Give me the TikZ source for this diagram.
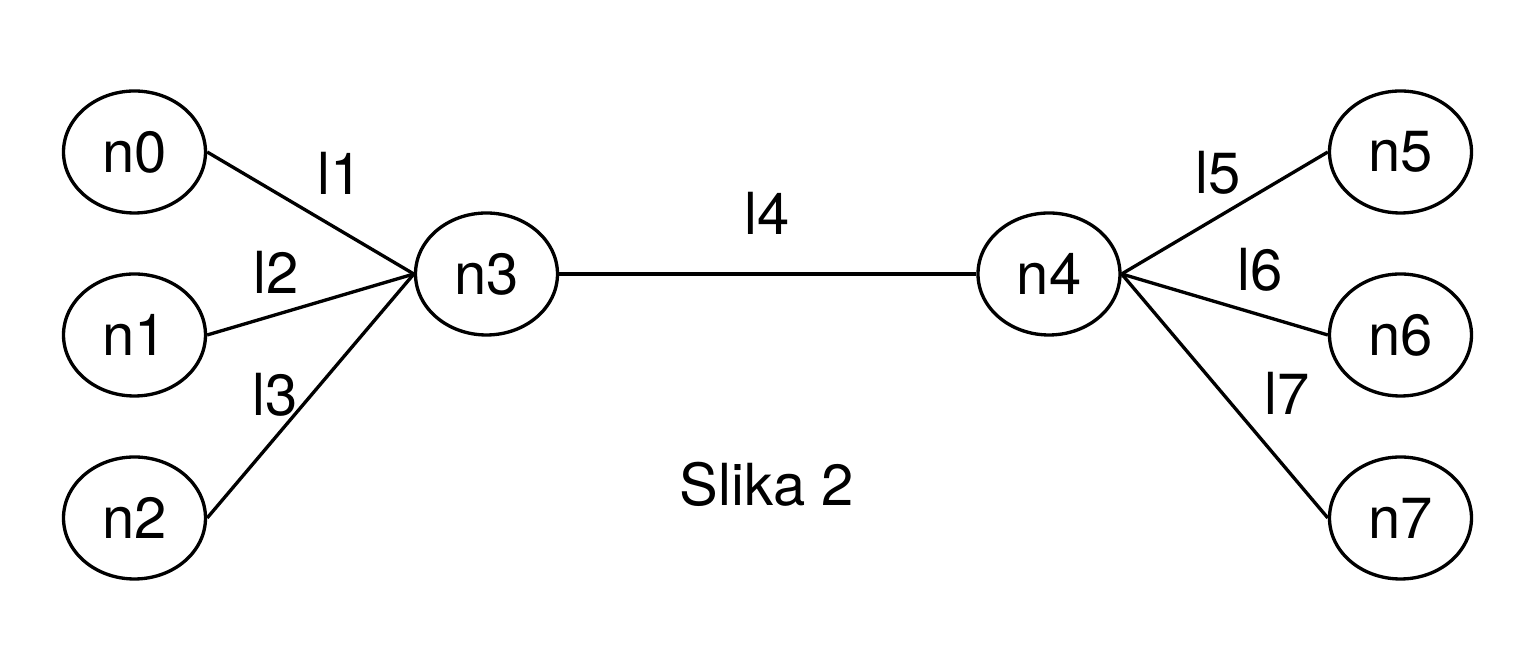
\documentclass[tikz,border=0pt]{standalone}
\usepackage{fontspec}
\setmainfont{TeX Gyre Heros}
\usepackage{tikz}
\usetikzlibrary{shapes.geometric, positioning}
\tikzstyle{host} = [ellipse, minimum width=1.42cm, minimum height=1.22cm, inner sep=0pt, text centered, draw=black, line width=0.95pt, fill=white]
\tikzstyle{lbl} = [inner sep=0pt, text centered]
\tikzstyle{link} = [line width=0.95pt]

\begin{document}
\begin{tikzpicture}[node distance=1.83cm, font=\fontsize{16.5}{20}\selectfont]

\useasboundingbox (0,0) rectangle (15.4,6.7);

\node (n0) [host] at (1.345,5.18) {n0};
\node (n1) [host, below of=n0] {n1};
\node (n2) [host, below of=n1] {n2};

\node (n3) [host] at (4.865,3.96) {n3};
\node (n4) [host] at (10.49,3.96) {n4};

\node (n5) [host] at (14.005,5.18) {n5};
\node (n6) [host, below of=n5] {n6};
\node (n7) [host, below of=n6] {n7};

\draw [link] (n0.east) -- (n3.west);
\draw [link] (n1.east) -- (n3.west);
\draw [link] (n2.east) -- (n3.west);

\draw [link] (n3.east) -- (n4.west);

\draw [link] (n4.east) -- (n5.west);
\draw [link] (n4.east) -- (n6.west);
\draw [link] (n4.east) -- (n7.west);

\node (l1) [lbl] at (3.40,4.97) {l1};
\node (l2) [lbl] at (2.76,3.98) {l2};
\node (l3) [lbl] at (2.75,2.75) {l3};
\node (l4) [lbl] at (7.67,4.57) {l4};
\node (l5) [lbl] at (12.18,4.97) {l5};
\node (l6) [lbl] at (12.60,4.00) {l6};
\node (l7) [lbl] at (12.87,2.77) {l7};

\node (title) [lbl] at (7.67,1.86) {Slika 2};

\end{tikzpicture}
\end{document}
